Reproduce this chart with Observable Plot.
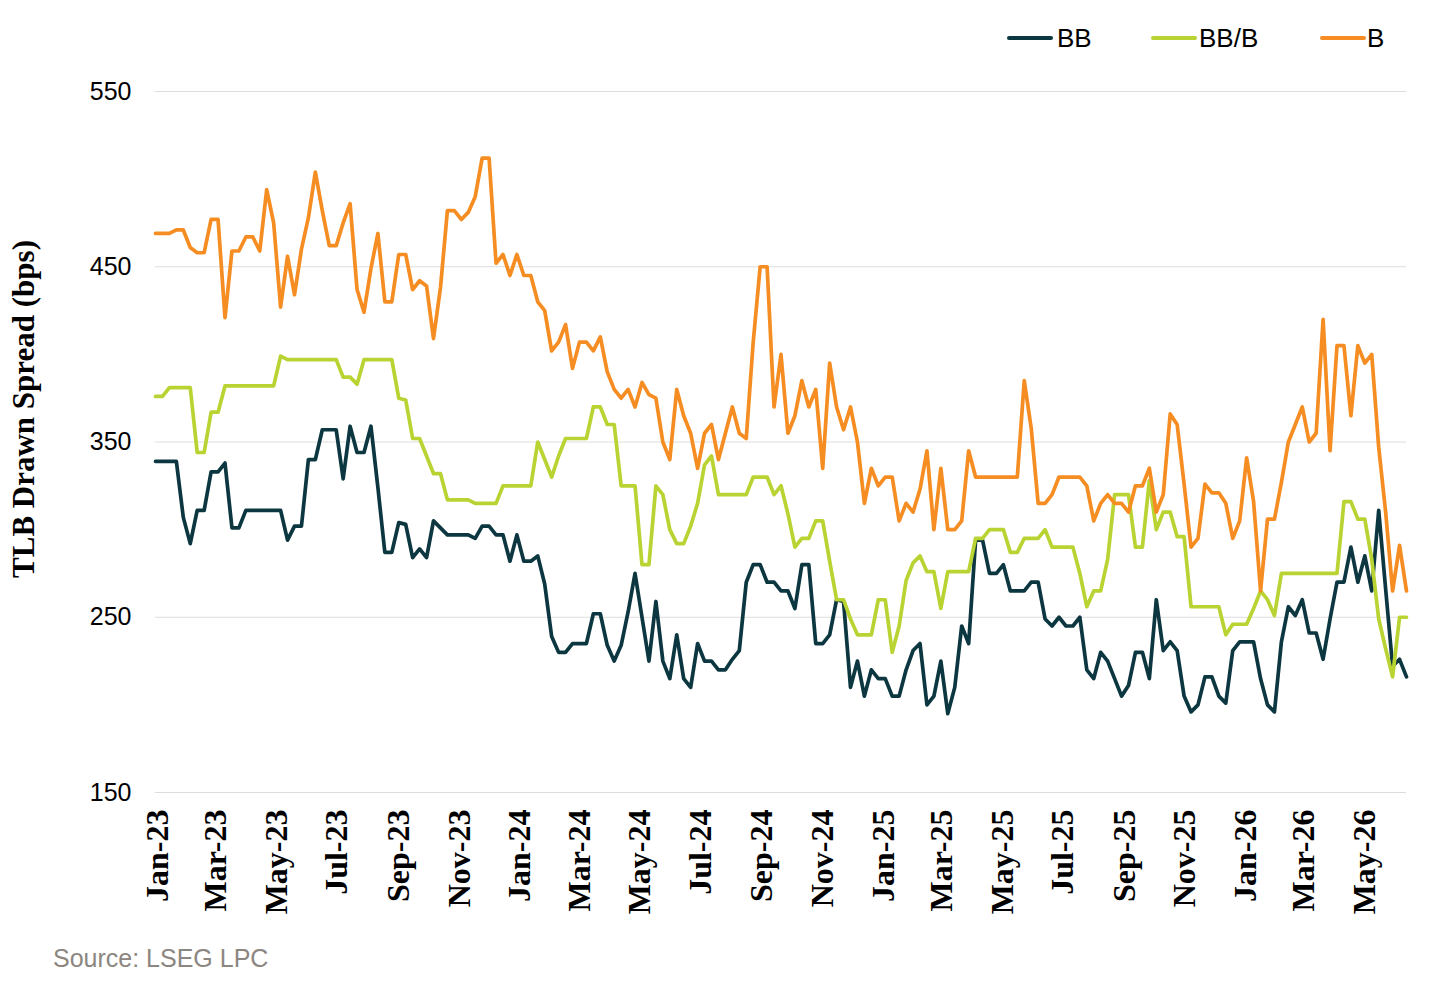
<!DOCTYPE html>
<html>
<head>
<meta charset="utf-8">
<script src="https://cdn.jsdelivr.net/npm/d3@7"></script>
<script src="https://cdn.jsdelivr.net/npm/@observablehq/plot@0.6"></script>
<style>
  html, body { margin: 0; padding: 0; background: #fff; }
  #wrap { position: relative; width: 1440px; height: 988px; overflow: hidden; }
  #legend { position: absolute; top: 0; left: 0; width: 1440px; height: 80px;
            font-family: "Liberation Sans", Arial, sans-serif; font-size: 26px; line-height: 30px; color: #000; }
  #legend .sw { position: absolute; top: 36px; width: 46px; height: 4px; border-radius: 2px; }
  #legend .lab { position: absolute; top: 23px; }
  #source { position: absolute; left: 53px; top: 943px; font-family: "Liberation Sans", Arial, sans-serif;
            font-size: 25px; line-height: 30px; color: #8c8680; }
</style>
</head>
<body>
<div id="wrap">
  <div id="chart"></div>
  <div id="legend"></div>
  <div id="source">Source: LSEG LPC</div>
</div>
<script>
const startDate = "2022-12-30";
const seriesNames = ["BB", "BB/B", "B"];
const seriesColors = ["#0c3740", "#b9d333", "#f58d22"];

const bb = [
  339,339,339,339,307,292,311,311,333,333,
  338,301,301,311,311,311,311,311,311,294,
  302,302,340,340,357,357,357,329,359,344,
  344,359,324,287,287,304,303,284,289,284,
  305,301,297,297,297,297,295,302,302,297,
  297,282,297,282,282,285,269,239,230,230,
  235,235,235,252,252,234,225,234,253,275,
  250,225,259,225,215,240,215,210,235,225,
  225,220,220,226,231,270,280,280,270,270,
  265,265,255,280,280,235,235,240,260,259,
  210,225,205,220,215,215,205,205,220,231,
  235,200,205,225,195,210,245,235,294,294,
  275,275,280,265,265,265,270,270,249,245,
  250,245,245,250,220,215,230,225,215,205,
  211,230,230,215,260,231,236,231,205,196,
  200,216,216,205,201,231,236,236,236,215,
  200,196,236,256,251,260,241,241,226,249,
  270,270,290,270,285,265,311,266,222,226,
  216
];

const bbB = [
  376,376,381,381,381,381,344,344,367,367,
  382,382,382,382,382,382,382,382,399,397,
  397,397,397,397,397,397,397,387,387,383,
  397,397,397,397,397,375,374,352,352,342,
  332,332,317,317,317,317,315,315,315,315,
  325,325,325,325,325,350,340,330,342,352,
  352,352,352,370,370,360,360,325,325,325,
  280,280,325,320,300,292,292,302,315,337,
  342,320,320,320,320,320,330,330,330,320,
  325,309,290,295,295,305,305,282,260,260,
  249,240,240,240,260,260,230,245,271,281,
  285,276,276,255,276,276,276,276,295,295,
  300,300,300,287,287,295,295,295,300,290,
  290,290,290,275,256,265,265,283,320,320,
  320,290,290,328,300,310,310,296,296,256,
  256,256,256,256,240,246,246,246,255,265,
  260,251,275,275,275,275,275,275,275,275,
  275,316,316,306,306,283,249,232,216,250,
  250
];

const b = [
  469,469,469,471,471,461,458,458,477,477,
  421,459,459,467,467,459,494,475,427,456,
  434,460,478,504,482,462,462,475,486,437,
  424,449,469,430,430,457,457,437,442,439,
  409,438,482,482,477,481,490,512,512,452,
  457,445,457,445,445,430,425,402,407,417,
  392,407,407,402,410,390,380,375,380,370,
  384,377,375,350,340,380,365,355,335,355,
  360,340,355,370,355,352,407,450,450,370,
  400,355,365,385,370,380,335,395,370,357,
  370,350,315,335,325,330,330,305,315,310,
  323,345,300,335,300,300,305,345,330,330,
  330,330,330,330,330,385,358,315,315,320,
  330,330,330,330,325,305,315,320,315,315,
  310,325,325,335,310,320,366,360,326,290,
  295,326,321,321,315,295,305,341,316,265,
  306,306,327,350,360,370,350,355,420,345,
  405,405,365,405,395,400,347,310,265,291,
  265
];

const tickLabels = ["Jan-23","Mar-23","May-23","Jul-23","Sep-23","Nov-23",
                    "Jan-24","Mar-24","May-24","Jul-24","Sep-24","Nov-24",
                    "Jan-25","Mar-25","May-25","Jul-25","Sep-25","Nov-25",
                    "Jan-26","Mar-26","May-26"];
const yTicks = [150, 250, 350, 450, 550];
const yLabel = "TLB Drawn Spread (bps)";

// ---- Build table ----
const t0 = d3.utcParse("%Y-%m-%d")(startDate);
const seriesValues = [bb, bbB, b];
const rows = [];
seriesValues.forEach((vals, s) => {
  vals.forEach((v, i) => rows.push({ series: seriesNames[s], date: d3.utcWeek.offset(t0, i), value: v }));
});
const lastDate = d3.utcWeek.offset(t0, bb.length - 1);
const tickDates = tickLabels.map(d3.utcParse("%b-%y"));

const chart = Plot.plot({
  width: 1440,
  height: 988,
  marginTop: 91,
  marginBottom: 196,
  marginLeft: 155,
  marginRight: 34,
  style: { background: "#fff", color: "#000", overflow: "visible" },
  x: { type: "utc", domain: [t0, lastDate] },
  y: { domain: [150, 550] },
  color: { domain: seriesNames, range: seriesColors },
  marks: [
    Plot.gridY(yTicks, { stroke: "#dddddd", strokeOpacity: 1, strokeWidth: 1 }),
    Plot.axisY(yTicks, { tickSize: 0, tickPadding: 24, fontSize: 25, fontFamily: "Liberation Sans, Arial, sans-serif", label: null }),
    Plot.axisX(tickDates, { tickSize: 0, tickPadding: 17, tickRotate: -90, tickFormat: d3.utcFormat("%b-%y"),
      fontSize: 32, fontFamily: "Liberation Serif, Times New Roman, serif", fontWeight: "bold", label: null }),
    Plot.text([yLabel], { frameAnchor: "left", textAnchor: "middle", dx: -131, dy: -33, rotate: -90, fontSize: 31,
      fontFamily: "Liberation Serif, Times New Roman, serif", fontWeight: "bold", fill: "#000" }),
    Plot.line(rows, { x: "date", y: "value", z: "series", stroke: "series", strokeWidth: 3.7,
      strokeLinejoin: "round", strokeLinecap: "round" })
  ]
});
document.getElementById("chart").appendChild(chart);

// ---- Legend ----
const legend = document.getElementById("legend");
const swatchLeft = [1007, 1151, 1320];
const labelLeft = [1057, 1199, 1367];
seriesNames.forEach((name, i) => {
  const sw = document.createElement("span");
  sw.className = "sw";
  sw.style.background = seriesColors[i];
  sw.style.left = swatchLeft[i] + "px";
  const lab = document.createElement("span");
  lab.className = "lab";
  lab.style.left = labelLeft[i] + "px";
  lab.textContent = name;
  legend.appendChild(sw);
  legend.appendChild(lab);
});
</script>
</body>
</html>
